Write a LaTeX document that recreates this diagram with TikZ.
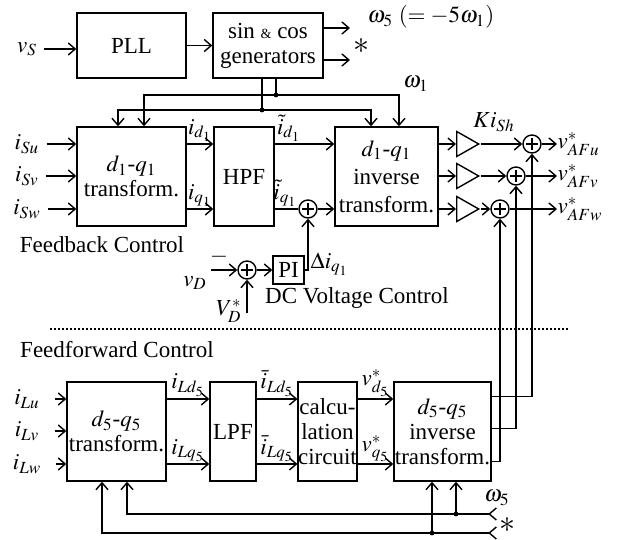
\documentclass[tikz,border=0pt]{standalone}
\usepackage{mathptmx}
\usepackage{fontspec}
\setmainfont{Liberation Serif}
\usetikzlibrary{arrows.meta,positioning,calc,shapes.geometric}

\begin{document}
\begin{tikzpicture}[
    x=0.5pt, y=-0.5pt, line width=0.7pt,
    font=\fontsize{11.5}{12.5}\selectfont,
    >={Straight Barb[length=3.5pt,width=6pt]},
    blk/.style={draw, inner sep=0pt, align=center, minimum height=49.5pt},
    sumc/.style={draw, circle, minimum size=9pt, inner sep=0pt,
        path picture={\draw[line width=0.6pt]
            ($(path picture bounding box.center)+(-3pt,0pt)$) -- ($(path picture bounding box.center)+(3pt,0pt)$)
            ($(path picture bounding box.center)+(0pt,-3pt)$) -- ($(path picture bounding box.center)+(0pt,3pt)$);}},
    gain/.style={draw, isosceles triangle, isosceles triangle stretches,
        inner sep=0pt, minimum width=12.5pt, minimum height=11pt},
    lbl/.style={inner sep=1pt},
    star/.style={font=\fontsize{16}{16}\selectfont, inner sep=0pt}
]
\useasboundingbox (0,0) rectangle (617,540);

% PLL and generators
\node (vs) at (27,49) {$v_S$};
\node[blk, minimum width=54.5pt, minimum height=32.5pt] (pll) at (131.5,45.5) {PLL};
\node[blk, minimum width=55pt, minimum height=32.5pt] (sincos) at (268,45.5)
    {sin {\scriptsize\&} cos\\generators};
\coordinate (gout1) at (350,28);
\coordinate (gout2) at (350,60);
\node[star] (ast1) at (361,46) {$\ast$};
\node (w5top) at (431,17) {$\omega_5$ $(=-5\omega_1)$};
\node (w1lbl) at (416,84) {$\omega_1$};

\draw[->] (vs) -- (pll.west |- vs);
\draw[->] (pll) -- (sincos);
\draw[->] (sincos.east |- gout1) -- (gout1);
\draw[->] (sincos.east |- gout2) -- (gout2);

% feedback control
\node (isu) at (27,144) {$i_{Su}$};
\node (isv) at (27,176) {$i_{Sv}$};
\node (isw) at (27,209) {$i_{Sw}$};
\node[blk, minimum width=54.5pt] (tr1) at (131.5,176.5) {$d_1$-$q_1$\\transform.};
\node[blk, minimum width=30pt] (hpf) at (244,176.5) {HPF};
\node[blk, minimum width=51.5pt] (inv1) at (386.5,176.5) {$d_1$-$q_1$\\[1.5pt]inverse\\[1.5pt]transform.};
\node[sumc] (sq) at (308,209) {};

\coordinate (ja) at (276,95);
\coordinate (jb) at (262,110);
\draw (sincos.south -| ja) -- (ja);
\draw (sincos.south -| jb) -- (jb);
\fill (ja) circle (1.2pt);
\fill (jb) circle (1.2pt);
\draw[->] (ja) -| ($(tr1.north)+(12.5,0)$);
\draw[->] (ja) -| ($(inv1.north)+(12.5,0)$);
\draw[->] (jb) -| ($(tr1.north)+(-13.5,0)$);
\draw[->] (jb) -| ($(inv1.north)+(-15.5,0)$);

\draw[->] (isu) -- (tr1.west |- isu);
\draw[->] (isv) -- (tr1.west |- isv);
\draw[->] (isw) -- (tr1.west |- isw);
\draw[->] (tr1.east |- isu) -- node[lbl, above]{$i_{d_1}$} (hpf.west |- isu);
\draw[->] (tr1.east |- isw) -- node[lbl, above]{$i_{q_1}$} (hpf.west |- isw);
\draw[->] (hpf.east |- isu) -- node[lbl, above, pos=0.24]{$\tilde{i}_{d_1}$} (inv1.west |- isu);
\draw (hpf.east |- isw) -- node[lbl, above, pos=0.45]{$\tilde{i}_{q_1}$} (sq);
\draw[->] (sq) -- (inv1.west |- sq);

\node (fbc) at (102,245) {Feedback Control};

% dc voltage control
\node[sumc] (sdc) at (247,270) {};
\node[blk, minimum width=15.5pt, minimum height=14pt] (pi) at (288.5,270) {PI};
\coordinate (vdin) at (211,270);
\coordinate (vdref) at (247,313);
\node (vdlbl) at (195,283) {$v_D$};
\node (minus) at (219,257) {$-$};
\node (vreflbl) at (229,311) {$V_D^*$};
\node (dcvc) at (357,298) {DC Voltage Control};

\draw[->] (vdin) -- (sdc);
\draw[->] (vdref) -- (sdc);
\draw[->] (sdc) -- (pi);
\draw[->] (pi.east) -| node[lbl, right, pos=0.56]{$\Delta i_{q_1}$} (sq.south);

% gains and output sums
\node[gain] (gu) at (464,144) {};
\node[gain] (gv) at (464,176) {};
\node[gain] (gw) at (464,209) {};
\node[sumc] (su) at (532,144) {};
\node[sumc] (sv) at (516,176) {};
\node[sumc] (sw) at (500,209) {};
\node[anchor=west, inner sep=0pt] (vu) at (557,144) {$v^*_{AFu}$};
\node[anchor=west, inner sep=0pt] (vv) at (557,176) {$v^*_{AFv}$};
\node[anchor=west, inner sep=0pt] (vw) at (557,209) {$v^*_{AFw}$};
\node (kish) at (494,122) {$Ki_{Sh}$};

\draw[->] (inv1.east |- gu) -- (gu.west);
\draw[->] (inv1.east |- gv) -- (gv.west);
\draw[->] (inv1.east |- gw) -- (gw.west);
\draw[->] (gu.apex) -- (su);
\draw[->] (gv.apex) -- (sv);
\draw[->] (gw.apex) -- (sw);
\draw[->] (su) -- (vu.west);
\draw[->] (sv) -- (vv.west);
\draw[->] (sw) -- (vw.west);

% separator
\draw[line width=0.6pt, dash pattern=on 0.8pt off 1.2pt] (50,329) -- (568,329);
\node (ffc) at (117,350) {Feedforward Control};

% feedforward control
\node (ilu) at (27,399) {$i_{Lu}$};
\node (ilv) at (27,431) {$i_{Lv}$};
\node (ilw) at (27,464) {$i_{Lw}$};
\node[blk, minimum width=49.5pt] (tr5) at (116.5,431.5) {$d_5$-$q_5$\\transform.};
\node[blk, minimum width=23pt] (lpf) at (233,431.5) {LPF};
\node[blk, minimum width=27.5pt] (circ) at (327.5,431.5) {calcu-\\lation\\circuit};
\node[blk, minimum width=48.5pt] (inv5) at (442.5,431.5) {$d_5$-$q_5$\\inverse\\transform.};

\draw[->, shorten <=4pt] (ilu) -- (tr5.west |- ilu);
\draw[->, shorten <=4pt] (ilv) -- (tr5.west |- ilv);
\draw[->, shorten <=4pt] (ilw) -- (tr5.west |- ilw);
\draw[->] (tr5.east |- ilu) -- node[lbl, above]{$i_{Ld_5}$} (lpf.west |- ilu);
\draw[->] (tr5.east |- ilw) -- node[lbl, above]{$i_{Lq_5}$} (lpf.west |- ilw);
\draw[->] (lpf.east |- ilu) -- node[lbl, above]{$\bar{i}_{Ld_5}$} (circ.west |- ilu);
\draw[->] (lpf.east |- ilw) -- node[lbl, above]{$\bar{i}_{Lq_5}$} (circ.west |- ilw);
\draw[->] (circ.east |- ilu) -- node[lbl, above]{$v^*_{d_5}$} (inv5.west |- ilu);
\draw[->] (circ.east |- ilw) -- node[lbl, above]{$v^*_{q_5}$} (inv5.west |- ilw);

\draw[->] ($(inv5.north east)+(0,15)$) -| (su.south);
\draw[->] ($(inv5.north east)+(0,47)$) -| (sv.south);
\draw[->] ($(inv5.north east)+(0,80)$) -| (sw.south);

% omega_5 feed
\coordinate (w5a) at (497,514);
\coordinate (w5b) at (497,533);
\coordinate (jc) at (456,514);
\coordinate (jd) at (432,533);
\node (w5lbl) at (497,498) {$\omega_5$};
\node[star] (ast2) at (507,525) {$\ast$};
\draw[>->] (w5a) -| ($(tr5.south)+(10.5,0)$);
\draw[>->] (w5b) -| ($(tr5.south)+(-14.5,0)$);
\draw[->] (jc) -- (jc |- inv5.south);
\draw[->] (jd) -- (jd |- inv5.south);
\fill (jc) circle (1.2pt);
\fill (jd) circle (1.2pt);
\end{tikzpicture}
\end{document}
